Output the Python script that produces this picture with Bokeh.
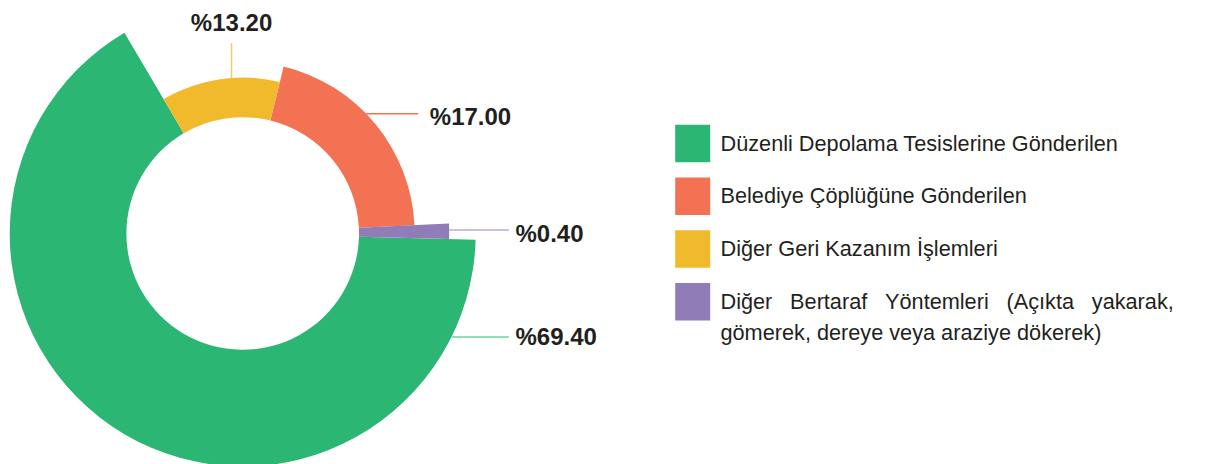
import math
import unicodedata
from bokeh.plotting import figure
from bokeh.models import ColumnDataSource, Range1d
from bokeh.core.properties import value
from bokeh.embed import file_html
from bokeh.resources import INLINE

# ---------------- data ----------------
categories = [
    "Düzenli Depolama Tesislerine Gönderilen",
    "Belediye Çöplüğüne Gönderilen",
    "Diğer Geri Kazanım İşlemleri",
    "Diğer Bertaraf Yöntemleri (Açıkta yakarak, gömerek, dereye veya araziye dökerek)",
]
values = [69.40, 17.00, 13.20, 0.40]
# share of the full circle each slice occupies in the drawing
drawn_share = [66.1, 20.4, 12.3, 1.2]

# ---------------- styles / layout ----------------
colors = ["#2cb673", "#f37254", "#f0ba2c", "#907db8"]
leader_colors = ["#74d0a0", "#f37254", "#f3cc66", "#b8abd6"]
outer_radius = [233, 172, 156, 206.5]
inner_radius = 116.3
draw_order = [0, 3, 1, 2]          # counter-clockwise drawing order
start_deg = 120.5
TEXT = "#231f20"
FONT = "Liberation Sans"
LABEL_SHIFT = 9.8    # renderer baseline correction (px) for 24px labels
LEGEND_SHIFT = 9.0   # renderer baseline correction (px) for legend text

WIDTH, H = 1228, 464  # data y = H - window y
cx, cy = 242.2, H - 233

# ---------------- slice geometry ----------------
starts = [0.0] * 4
ends = [0.0] * 4
a = start_deg
for i in draw_order:
    starts[i] = a
    a += drawn_share[i] * 3.6
    ends[i] = a

src = ColumnDataSource(dict(
    x=[cx] * 4, y=[cy] * 4, r=outer_radius,
    start=[math.radians(s) for s in starts],
    end=[math.radians(e) for e in ends],
    color=colors, name=categories,
))

p = figure(width=WIDTH, height=H, x_range=Range1d(0, WIDTH), y_range=Range1d(0, H),
           output_backend="svg", toolbar_location=None, min_border=0)
p.axis.visible = False
p.grid.visible = False
p.outline_line_color = None
p.background_fill_color = "white"
p.border_fill_color = "white"

p.annular_wedge(x="x", y="y", inner_radius=inner_radius, outer_radius="r",
                start_angle="start", end_angle="end", fill_color="color",
                line_color=None, source=src)

# ---------------- value labels with leader lines ----------------
label_layout = [
    dict(angle=-26.4, kind="right", end=508.3, tx=515.0, dy=9.3),
    dict(angle=44.1, kind="right", end=417.7, tx=429.3, dy=12.4),
    dict(angle=94.1, kind="up", top=H - 42.7, dy=11.0),
    dict(angle=1.0, kind="right", end=508.3, tx=515.0, dy=13.0),
]

seg = dict(x0=[], y0=[], x1=[], y1=[], c=[])
lab_right = dict(x=[], y=[], t=[])
lab_up = dict(x=[], y=[], t=[])
for i, lay in enumerate(label_layout):
    ang = math.radians(lay["angle"])
    x0 = cx + outer_radius[i] * math.cos(ang)
    y0 = cy + outer_radius[i] * math.sin(ang)
    txt = "%{:.2f}".format(values[i])
    if lay["kind"] == "right":
        seg["x0"].append(x0); seg["y0"].append(y0)
        seg["x1"].append(lay["end"]); seg["y1"].append(y0)
        lab_right["x"].append(lay["tx"])
        lab_right["y"].append(y0 - lay["dy"] + LABEL_SHIFT)
        lab_right["t"].append(txt)
    else:
        seg["x0"].append(x0); seg["y0"].append(y0)
        seg["x1"].append(x0); seg["y1"].append(lay["top"])
        lab_up["x"].append(x0)
        lab_up["y"].append(lay["top"] + lay["dy"] + LABEL_SHIFT)
        lab_up["t"].append(txt)
    seg["c"].append(leader_colors[i])

p.segment(x0="x0", y0="y0", x1="x1", y1="y1", line_color="c", line_width=1.5,
          source=ColumnDataSource(seg))
p.text(x="x", y="y", text="t", source=ColumnDataSource(lab_right),
       text_font=value(FONT), text_font_size=value("24px"), text_font_style="bold",
       text_color=TEXT, text_align="left", text_baseline="alphabetic")
p.text(x="x", y="y", text="t", source=ColumnDataSource(lab_up),
       text_font=value(FONT), text_font_size=value("24px"), text_font_style="bold",
       text_color=TEXT, text_align="center", text_baseline="alphabetic")

# ---------------- legend (squares + justified text) ----------------
W = {" ": 278, ",": 278, ".": 278, "(": 333, ")": 333, "%": 889}
for ch, w in zip("abcdefghijklmnopqrstuvwxyz",
                 [556, 556, 500, 556, 556, 278, 556, 556, 222, 222, 500, 222, 833,
                  556, 556, 556, 556, 333, 500, 278, 556, 500, 722, 500, 500, 500]):
    W[ch] = w
for ch, w in zip("ABCDEFGHIJKLMNOPQRSTUVWXYZ",
                 [667, 667, 722, 722, 667, 611, 778, 722, 278, 500, 667, 556, 833,
                  722, 778, 667, 778, 722, 667, 611, 722, 667, 944, 667, 667, 611]):
    W[ch] = w
W["ı"] = 278


def text_width(s, size):
    tot = 0
    for ch in s:
        if ch in W:
            tot += W[ch]
        else:
            tot += W.get(unicodedata.normalize("NFD", ch)[0], 556)
    return tot * size / 1000.0


LEG_SIZE = 21.7
leg_sq_x = 692.2
leg_sq_w, leg_sq_h = 35, 37.5
leg_top_center = 142.9        # window y of first square centre
leg_step = 52.75
leg_text_x = 720.0
leg_max_w = 453.3
leg_line_h = 31.0
leg_base_off = 8.6

sq = dict(x=[], y=[], c=[])
lt = dict(x=[], y=[], t=[])
for i, name in enumerate(categories):
    yc = H - (leg_top_center + i * leg_step)
    sq["x"].append(leg_sq_x); sq["y"].append(yc); sq["c"].append(colors[i])
    words = name.split(" ")
    lines, cur = [], []
    for w in words:
        if cur and text_width(" ".join(cur + [w]), LEG_SIZE) > leg_max_w:
            lines.append(cur)
            cur = [w]
        else:
            cur.append(w)
    lines.append(cur)
    for li, ln in enumerate(lines):
        yb = yc - leg_base_off - li * leg_line_h + LEGEND_SHIFT
        if li < len(lines) - 1 and len(ln) > 1:
            widths = [text_width(w, LEG_SIZE) for w in ln]
            gap = (leg_max_w - sum(widths)) / (len(ln) - 1)
            xx = leg_text_x
            for w, wd in zip(ln, widths):
                lt["x"].append(xx); lt["y"].append(yb); lt["t"].append(w)
                xx += wd + gap
        else:
            lt["x"].append(leg_text_x); lt["y"].append(yb); lt["t"].append(" ".join(ln))

p.rect(x="x", y="y", width=leg_sq_w, height=leg_sq_h, fill_color="c", line_color=None,
       source=ColumnDataSource(sq))
p.text(x="x", y="y", text="t", source=ColumnDataSource(lt),
       text_font=value(FONT), text_font_size=value(f"{LEG_SIZE}px"),
       text_color=TEXT, text_align="left", text_baseline="alphabetic")

open("out.html", "w").write(file_html(p, INLINE))
